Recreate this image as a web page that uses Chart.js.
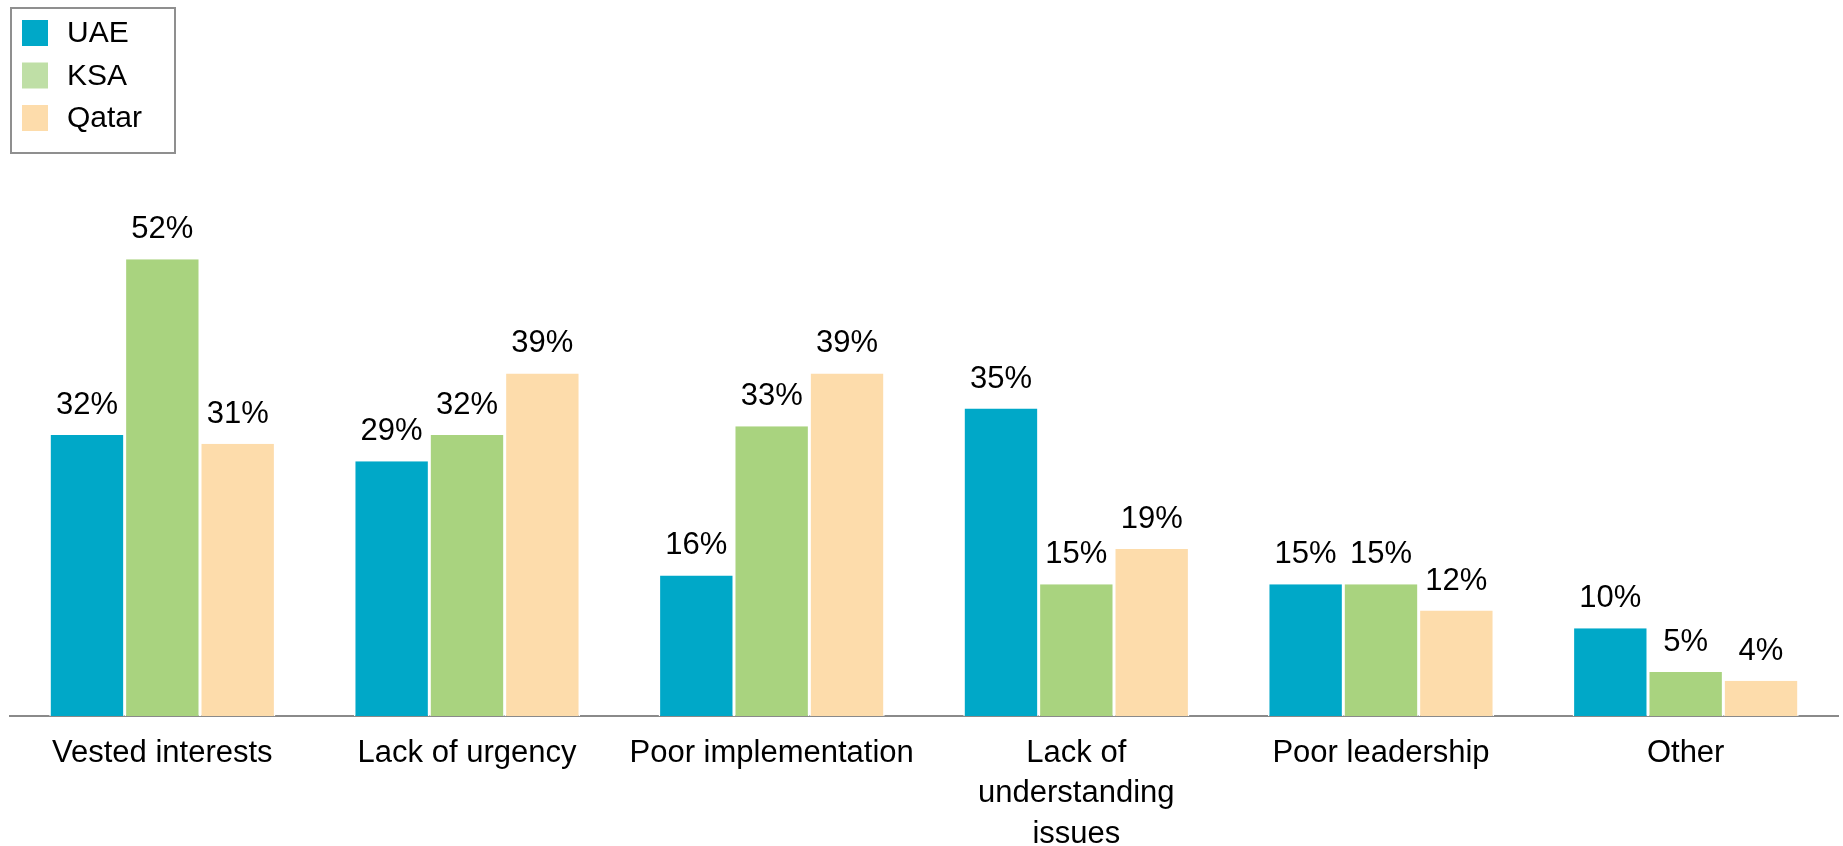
<!DOCTYPE html>
<html lang="en">
<head>
    <meta charset="UTF-8">
    <title>Barriers by country</title>
    <script src="https://cdn.jsdelivr.net/npm/chart.js@4.4.1/dist/chart.umd.min.js"></script>
    <style>
        html, body { margin: 0; padding: 0; background: #fff; overflow: hidden; }
        #wrap { width: 1843px; height: 846px; position: relative; }
    </style>
</head>
<body>
    <div id="wrap"><canvas id="myChart"></canvas></div>
    <script>
        const categories = ['Vested interests', 'Lack of urgency', 'Poor implementation',
                            ['Lack of', 'understanding', 'issues'], 'Poor leadership', 'Other'];
        const uae   = [32, 29, 16, 35, 15, 10];
        const ksa   = [52, 32, 33, 15, 15, 5];
        const qatar = [31, 39, 39, 19, 12, 4];

        const FONT = '"Liberation Sans", Arial, sans-serif';

        // boxed legend in the top left corner
        const boxLegend = {
            id: 'boxLegend',
            afterDraw(chart) {
                const ctx = chart.ctx;
                ctx.save();
                ctx.strokeStyle = '#8f8f8f';
                ctx.lineWidth = 2;
                ctx.strokeRect(11, 8, 164, 145);
                ctx.font = '30px ' + FONT;
                ctx.textBaseline = 'middle';
                ctx.textAlign = 'left';
                chart.data.datasets.forEach((ds, i) => {
                    const y = 20 + i * 42.5;
                    ctx.fillStyle = ds.legendColor || ds.backgroundColor;
                    ctx.fillRect(22, y, 26, 26);
                    ctx.fillStyle = '#000';
                    ctx.fillText(ds.label, 67, y + 14);
                });
                ctx.restore();
            }
        };

        // percentage labels above each bar
        const valueLabels = {
            id: 'valueLabels',
            afterDatasetsDraw(chart) {
                const ctx = chart.ctx;
                ctx.save();
                ctx.font = '31px ' + FONT;
                ctx.fillStyle = '#000';
                ctx.textAlign = 'center';
                ctx.textBaseline = 'alphabetic';
                chart.data.datasets.forEach((ds, i) => {
                    chart.getDatasetMeta(i).data.forEach((bar, j) => {
                        ctx.fillText(ds.data[j] + '%', bar.x, bar.y - 21);
                    });
                });
                ctx.restore();
            }
        };

        const barBorder = { left: 1.5, right: 1.5, top: 0, bottom: 0 };

        const ctx = document.getElementById('myChart').getContext('2d');
        new Chart(ctx, {
            type: 'bar',
            data: {
                labels: categories,
                datasets: [
                    { label: 'UAE',   data: uae,   backgroundColor: '#00a8c8', borderColor: '#fff', borderWidth: barBorder, borderSkipped: false },
                    { label: 'KSA',   data: ksa,   backgroundColor: '#a9d37f', legendColor: '#bfdfa6', borderColor: '#fff', borderWidth: barBorder, borderSkipped: false },
                    { label: 'Qatar', data: qatar, backgroundColor: '#fddcab', borderColor: '#fff', borderWidth: barBorder, borderSkipped: false }
                ]
            },
            options: {
                responsive: true,
                maintainAspectRatio: false,
                animation: false,
                layout: { padding: { top: 189, left: 10, right: 5, bottom: 0 } },
                datasets: { bar: { categoryPercentage: 0.742, barPercentage: 1 } },
                plugins: {
                    legend: { display: false },
                    tooltip: { enabled: false }
                },
                scales: {
                    x: {
                        grid: { display: false, drawTicks: false },
                        border: { display: true, color: '#8a8a8a', width: 2 },
                        ticks: {
                            color: '#000',
                            padding: 17,
                            maxRotation: 0,
                            autoSkip: false,
                            font: { family: FONT, size: 31, lineHeight: 1.306 }
                        },
                        afterFit(scale) { scale.height = 130; }
                    },
                    y: {
                        display: false,
                        min: 0,
                        max: 60
                    }
                }
            },
            plugins: [boxLegend, valueLabels]
        });
    </script>
</body>
</html>
